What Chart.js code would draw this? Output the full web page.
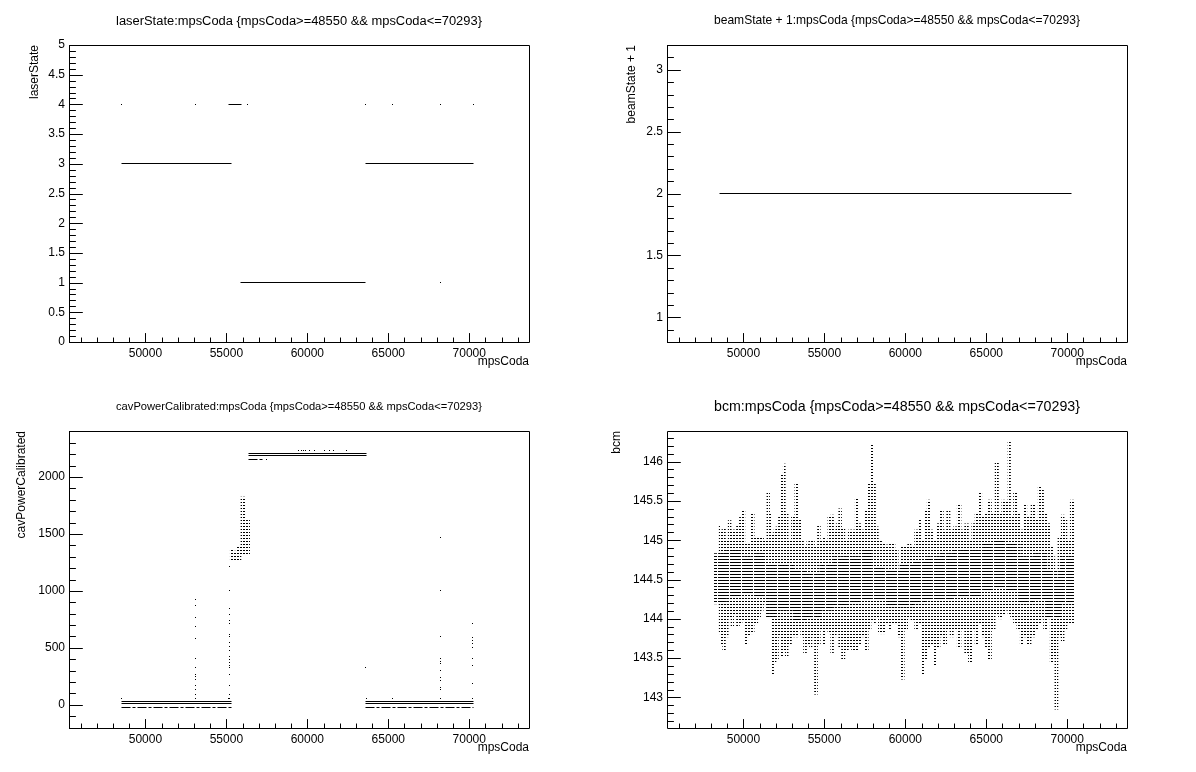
<!DOCTYPE html>
<html>
<head>
<meta charset="utf-8">
<script src="https://cdn.jsdelivr.net/npm/chart.js@4.4.1/dist/chart.umd.min.js"></script>
<style>
  html, body { margin: 0; padding: 0; background: #fff; }
  body { width: 1196px; height: 772px; position: relative; overflow: hidden; }
  canvas { position: absolute; }
</style>
</head>
<body>
<canvas id="laserChart" width="574" height="371" style="left:12px;top:8px"></canvas>
<canvas id="beamChart" width="574" height="371" style="left:610px;top:8px"></canvas>
<canvas id="cavChart" width="574" height="371" style="left:12px;top:394px"></canvas>
<canvas id="bcmChart" width="574" height="371" style="left:610px;top:394px"></canvas>
<script>
// x range shared by all four pads
const codaMin = 45280;
const codaMax = 73690;
const codaTicks = [50000, 55000, 60000, 65000, 70000];

// laserState:mpsCoda
const laserTicks = [0, 0.5, 1, 1.5, 2, 2.5, 3, 3.5, 4, 4.5, 5];
const laserRunStart = [48550, 55900, 63570, 55110];
const laserRunEnd = [55320, 63610, 70293, 55940];
const laserRunState = [3, 1, 3, 4];
const laserDotCoda = [48550, 53110, 56290, 63610, 65260, 68210, 70270, 68210];
const laserDotState = [4, 4, 4, 4, 4, 4, 4, 1];

// beamState + 1:mpsCoda
const beamTicks = [1, 1.5, 2, 2.5, 3];
const beamRunStart = [48550];
const beamRunEnd = [70293];
const beamRunValue = [2];

// cavPowerCalibrated:mpsCoda
const cavTicks = [0, 500, 1000, 1500, 2000];
const cavRunStart = [48550, 48550, 63570, 63570, 56350, 56350];
const cavRunEnd = [55320, 55320, 70293, 70293, 63630, 63630];
const cavRunPower = [33, 15, 33, 15, 2209, 2191];
const cavBrokenStart = [48550, 63570, 56350];
const cavBrokenEnd = [55320, 70293, 57250];
const cavBrokenPower = [-22, -22, 2156];
const cavColumnCoda = [53110, 55215, 68210, 70230];
const cavColumnPower = [
  [924, 871, 763, 684, 578, 402, 323, 270, 249, 226, 167, 138, 94, 59],
  [1214, 1000, 842, 795, 739, 715, 616, 601, 548, 510, 475, 428, 399, 372, 343, 323, 270, 167, 94, 59],
  [1472, 1000, 601, 402, 378, 358, 299, 240, 217, 152, 138, 59],
  [710, 587, 563, 534, 499, 402, 349, 191, 59]
];
const cavDotCoda = [48550, 55130, 57500, 59480, 59630, 59750, 59870, 60120, 60460, 61050, 61340, 61610, 62440, 63610, 63630, 65260];
const cavDotPower = [59, 59, 2156, 2235, 2235, 2235, 2235, 2235, 2235, 2235, 2235, 2235, 2235, 323, 59, 59];
const cavBandCoda = [55340, 55540, 55780, 56020, 56300];
const cavBandLow = [1267, 1267, 1267, 1311, 1311];
const cavBandHigh = [1370, 1349, 1399, 1824, 1619];

// bcm:mpsCoda, spread of each stretch of events
const bcmTicks = [143, 143.5, 144, 144.5, 145, 145.5, 146];
const bcmCoda = [48550, 48640, 48800, 48970, 49150, 49320, 49480, 49670, 49830, 50000,
  50180, 50350, 50530, 50800, 50970, 51150, 51340, 51560, 51670, 51790,
  51940, 52080, 52250, 52410, 52510, 52660, 52860, 53070, 53280, 53440,
  53630, 53790, 54000, 54160, 54310, 54470, 54680, 54820, 54970, 55130,
  55300, 55480, 55650, 55810, 55960, 56160, 56370, 56580, 56780, 57030,
  57190, 57400, 57610, 57810, 57960, 58080, 58230, 58430, 58640, 58840,
  59050, 59260, 59460, 59670, 59830, 60040, 60250, 60450, 60700, 60910,
  61110, 61280, 61420, 61630, 61830, 62040, 62250, 62450, 62660, 62860,
  63070, 63340, 63540, 63790, 64000, 64200, 64410, 64620, 64820, 65030,
  65200, 65440, 65650, 65850, 66060, 66270, 66410, 66580, 66780, 66990,
  67200, 67400, 67610, 67920, 68120, 68290, 68430, 68640, 68840, 69050,
  69150, 69320, 69530, 69730, 69880, 70080, 70290];
const bcmHigh = [145.20, 145.13, 145.14, 145.00, 145.25, 145.13, 145.13, 145.19, 145.29, 145.38,
  144.96, 144.96, 145.34, 145.04, 145.04, 145.04, 145.00, 145.62, 145.34, 145.09,
  145.13, 145.17, 145.30, 145.83, 145.97, 145.34, 145.00, 145.30, 145.71, 145.26,
  145.00, 144.91, 144.98, 145.00, 145.00, 144.91, 145.19, 145.00, 145.04, 145.00,
  145.30, 145.32, 145.13, 145.21, 145.40, 145.15, 145.00, 145.13, 145.13, 145.53,
  145.21, 145.13, 145.38, 145.72, 146.21, 145.72, 145.17, 145.00, 144.96, 144.94,
  144.96, 144.96, 144.87, 144.62, 144.91, 144.91, 144.96, 144.91, 145.13, 145.26,
  145.00, 145.38, 145.51, 145.13, 145.00, 145.21, 145.38, 145.13, 145.38, 145.13,
  145.17, 145.45, 145.13, 145.21, 145.00, 145.21, 145.34, 145.62, 145.30, 145.34,
  145.51, 145.34, 145.98, 145.34, 145.51, 145.49, 146.26, 145.30, 145.62, 145.34,
  145.13, 145.45, 145.30, 145.45, 145.26, 145.70, 145.64, 145.34, 145.21, 144.91,
  144.79, 144.49, 145.04, 145.32, 145.26, 145.00, 145.51];
const bcmLow = [143.81, 143.68, 143.60, 143.77, 144.02, 143.89, 144.04, 143.89, 143.94, 143.98,
  143.68, 143.79, 143.81, 143.94, 144.02, 144.11, 144.19, 144.02, 144.28, 143.28,
  143.43, 143.47, 143.77, 143.53, 143.60, 143.53, 143.68, 143.77, 143.77, 143.85,
  143.77, 143.57, 143.68, 143.64, 143.77, 143.04, 143.68, 143.85, 143.68, 143.85,
  143.81, 143.57, 143.77, 143.81, 143.64, 143.47, 143.60, 143.64, 143.60, 143.60,
  143.68, 143.77, 143.60, 143.85, 143.98, 143.94, 144.02, 143.81, 143.81, 143.94,
  143.85, 143.94, 143.94, 143.77, 143.23, 143.85, 144.00, 143.98, 143.85, 143.94,
  143.30, 143.47, 143.64, 143.68, 143.40, 143.64, 143.77, 143.68, 143.85, 143.77,
  143.85, 143.64, 143.85, 143.57, 143.45, 143.85, 143.68, 143.94, 143.77, 143.64,
  143.47, 143.85, 144.04, 144.00, 144.06, 144.11, 144.06, 144.00, 143.94, 143.85,
  143.68, 143.77, 143.68, 143.77, 143.85, 143.94, 144.00, 143.85, 144.00, 143.43,
  143.53, 142.85, 143.77, 143.72, 143.85, 143.94, 143.94];
// dense core of the bcm band
const bcmCoreCoda = [48550, 49360, 50180, 51010, 51830, 52660, 53480, 54310, 55130, 55960,
  56780, 57610, 58430, 59260, 60080, 60910, 61730, 62560, 63380, 64200,
  65030, 65850, 66680, 67510, 68330, 69150, 69980];
const bcmCoreHigh = [144.83, 144.87, 144.79, 144.83, 144.70, 144.70, 144.62, 144.57, 144.70, 144.79,
  144.79, 144.87, 144.66, 144.62, 144.70, 144.74, 144.79, 144.83, 144.87, 144.87,
  144.96, 145.00, 144.96, 144.79, 144.83, 144.62, 144.79];
const bcmCoreLow = [144.19, 144.28, 144.32, 144.28, 144.02, 144.11, 143.98, 144.02, 144.11, 144.15,
  144.19, 144.23, 144.23, 144.15, 144.15, 144.19, 144.23, 144.23, 144.28, 144.28,
  144.36, 144.40, 144.36, 144.19, 144.23, 144.02, 144.19];

const FONT = '"Liberation Sans", Arial, Helvetica, sans-serif';

// ROOT style frame: box, inward ticks, titles
const rootFrame = {
  id: 'rootFrame',
  beforeDatasetsDraw(chart) {
    // put scatter marks and lines on pixel centres so they stay crisp
    chart.getSortedVisibleDatasetMetas().forEach(meta => {
      if (meta.type !== 'scatter') return;
      meta.data.forEach(p => {
        p.x = Math.round(p.x - 0.5) + 0.5;
        p.y = Math.round(p.y - 0.5) + 0.5;
      });
    });
  },
  afterDraw(chart, args, o) {
    const { ctx, chartArea: a } = chart;
    const x = chart.scales.x, y = chart.scales.y;
    const w = a.right - a.left, h = a.bottom - a.top;
    ctx.save();
    ctx.strokeStyle = '#000';
    ctx.lineWidth = 1;
    ctx.beginPath();
    ctx.rect(Math.round(a.left) + 0.5, Math.round(a.top) + 0.5, Math.round(w), Math.round(h));
    const marks = (scale, minor, every, draw) => {
      const k0 = Math.ceil(scale.min / minor - 1e-9);
      const k1 = Math.floor(scale.max / minor + 1e-9);
      for (let k = k0; k <= k1; k++) {
        draw(Math.round(scale.getPixelForValue(k * minor)) + 0.5, k % every === 0);
      }
    };
    marks(x, 1000, 5, (px, major) => {
      ctx.moveTo(px, a.bottom);
      ctx.lineTo(px, a.bottom - (major ? 0.03 : 0.015) * h);
    });
    marks(y, o.yMinor, o.yEvery, (py, major) => {
      ctx.moveTo(a.left, py);
      ctx.lineTo(a.left + (major ? 0.03 : 0.015) * w, py);
    });
    ctx.stroke();

    ctx.fillStyle = '#000';
    ctx.textBaseline = 'middle';
    ctx.textAlign = 'center';
    ctx.font = '13px ' + FONT;
    const fs = Math.min(16, 13 * 366 / ctx.measureText(o.title).width);
    ctx.font = fs.toFixed(2) + 'px ' + FONT;
    ctx.fillText(o.title, chart.width / 2, 13);

    ctx.font = '12px ' + FONT;
    ctx.textAlign = 'right';
    ctx.fillText('mpsCoda', a.right, a.bottom + 20);
    ctx.translate(o.yTitleX, a.top);
    ctx.rotate(-Math.PI / 2);
    ctx.fillText(o.yTitle, 0, 0);
    ctx.restore();
  }
};

function runs(starts, ends, levels, dash) {
  return starts.map((s, i) => ({
    type: 'scatter',
    data: [{ x: s, y: levels[i] }, { x: ends[i], y: levels[i] }],
    showLine: true,
    borderColor: '#000',
    borderWidth: 1,
    borderDash: dash || [],
    pointRadius: 0
  }));
}

function dots(xs, ys) {
  return {
    type: 'scatter',
    data: xs.map((v, i) => ({ x: v, y: ys[i] })),
    pointStyle: 'rect',
    pointRadius: 0.71,
    borderWidth: 0,
    backgroundColor: '#000'
  };
}

function band(xs, lo, hi, pattern) {
  return {
    type: 'bar',
    stack: 'band',
    data: xs.map((v, i) => ({ x: v, y: [lo[i], hi[i]] })),
    backgroundColor: pattern,
    borderWidth: 0,
    barThickness: 'flex',
    barPercentage: 1,
    categoryPercentage: 1
  };
}

function pattern(ctx, w, h, dash) {
  const c = document.createElement('canvas');
  c.width = w;
  c.height = h;
  const g = c.getContext('2d');
  g.fillStyle = '#000';
  g.fillRect(0, 0, dash, 1);
  return ctx.createPattern(c, 'repeat');
}

const tickFont = { family: FONT, size: 12 };
const fmt = v => String(Math.round(v * 100) / 100);

function makeChart(id, yMin, yMax, yTicks, frame, datasets) {
  return new Chart(document.getElementById(id), {
    type: 'scatter',
    data: { datasets },
    options: {
      responsive: false,
      animation: false,
      layout: { padding: { top: 37, right: 57, left: 0, bottom: 0 } },
      plugins: { legend: { display: false }, tooltip: { enabled: false }, rootFrame: frame },
      scales: {
        x: {
          type: 'linear', min: codaMin, max: codaMax, offset: false,
          grid: { display: false, drawTicks: false }, border: { display: false },
          ticks: { autoSkip: false, maxRotation: 0, padding: 4, color: '#000', font: tickFont, callback: v => String(v) },
          afterBuildTicks: s => { s.ticks = codaTicks.map(v => ({ value: v })); },
          afterFit: s => { s.height = 37; }
        },
        y: {
          type: 'linear', min: yMin, max: yMax, stacked: false,
          grid: { display: false, drawTicks: false }, border: { display: false },
          ticks: { autoSkip: false, padding: 4, color: '#000', font: tickFont, callback: fmt },
          afterBuildTicks: s => { s.ticks = yTicks.map(v => ({ value: v })); },
          afterFit: s => { s.width = 57; }
        }
      }
    },
    plugins: [rootFrame]
  });
}

makeChart('laserChart', 0, 5, laserTicks,
  { title: 'laserState:mpsCoda {mpsCoda>=48550 && mpsCoda<=70293}', yTitle: 'laserState', yTitleX: 23, yMinor: 0.1, yEvery: 5 },
  [...runs(laserRunStart, laserRunEnd, laserRunState), dots(laserDotCoda, laserDotState)]);

makeChart('beamChart', 0.8, 3.2, beamTicks,
  { title: 'beamState + 1:mpsCoda {mpsCoda>=48550 && mpsCoda<=70293}', yTitle: 'beamState + 1', yTitleX: 22, yMinor: 0.1, yEvery: 5 },
  runs(beamRunStart, beamRunEnd, beamRunValue));

const cavCtx = document.getElementById('cavChart').getContext('2d');
const cavColumns = cavColumnCoda.map((c, i) => dots(cavColumnPower[i].map(() => c), cavColumnPower[i]));
makeChart('cavChart', -204, 2404, cavTicks,
  { title: 'cavPowerCalibrated:mpsCoda {mpsCoda>=48550 && mpsCoda<=70293}', yTitle: 'cavPowerCalibrated', yTitleX: 10, yMinor: 100, yEvery: 5 },
  [...runs(cavRunStart, cavRunEnd, cavRunPower), ...runs(cavBrokenStart, cavBrokenEnd, cavBrokenPower, [9, 2, 3, 2]),
   ...cavColumns, dots(cavDotCoda, cavDotPower),
   band(cavBandCoda, cavBandLow, cavBandHigh, pattern(cavCtx, 3, 3, 2))]);

const bcmCtx = document.getElementById('bcmChart').getContext('2d');
makeChart('bcmChart', 142.61, 146.39, bcmTicks,
  { title: 'bcm:mpsCoda {mpsCoda>=48550 && mpsCoda<=70293}', yTitle: 'bcm', yTitleX: 7, yMinor: 0.1, yEvery: 5 },
  [band(bcmCoreCoda, bcmCoreLow, bcmCoreHigh, pattern(bcmCtx, 4, 3, 3)),
   band(bcmCoda, bcmLow, bcmHigh, pattern(bcmCtx, 3, 3, 2))]);
</script>
</body>
</html>
